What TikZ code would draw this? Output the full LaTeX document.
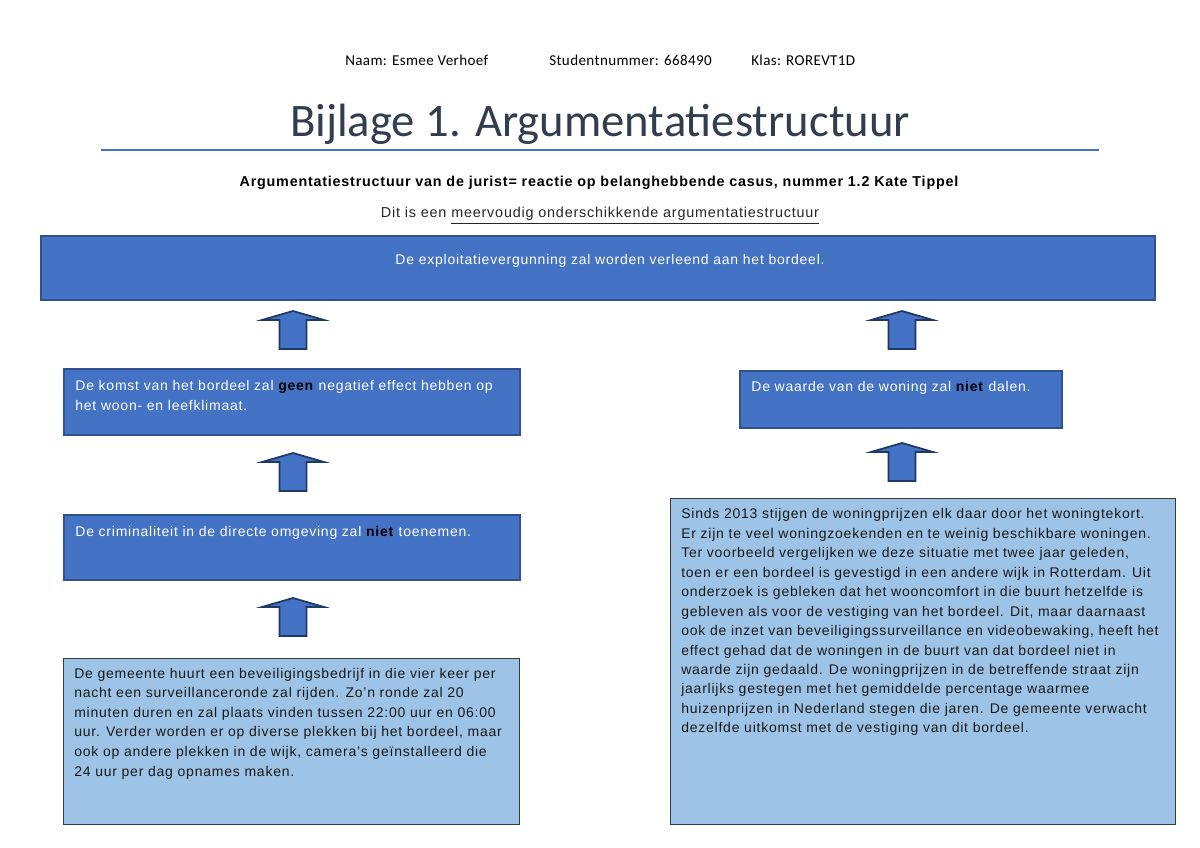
\documentclass[tikz,border=0pt]{standalone}
\usepackage{fontspec}
\setmainfont{Liberation Sans}[LetterSpace=5.5]
\newfontfamily\calibfont{Carlito}
\newfontfamily\calibsp{Carlito}[LetterSpace=2.5]
\definecolor{accent}{HTML}{4472C4}
\definecolor{accentdk}{HTML}{2F528F}
\definecolor{arrowdk}{HTML}{203864}
\definecolor{lightbl}{HTML}{9DC3E6}
\definecolor{titlec}{HTML}{323E4F}
\definecolor{framegray}{HTML}{3A3A3A}
\newdimen\px \px=0.75pt
% width px, height px, xsep pt, ysep pt, text
\newcommand\tb[5]{\begin{minipage}[t][\dimexpr #2\px-#4*2\relax][t]{\dimexpr #1\px-#3*2\relax}\raggedright #5\end{minipage}}
\newcommand\bk[1]{\textcolor{black}{\textbf{#1}}}
\tikzset{
  bodyfont/.style={font=\fontsize{10.5pt}{14.7pt}\selectfont},
  darkbox/.style={draw=accentdk, line width=1.6pt, fill=accent, text=white, anchor=north west, bodyfont},
  lightbox/.style={draw=framegray, line width=0.9pt, fill=lightbl, text=black!90, anchor=north west, bodyfont},
  arrowshape/.style={draw=arrowdk, line width=1.3pt, fill=accent, line join=miter},
  uparr/.pic={\draw[arrowshape] (0,0) -- (31,9) -- (13.5,9) -- (13.5,38) -- (-13.5,38) -- (-13.5,9) -- (-31,9) -- cycle;},
  hdr/.style={font=\calibsp\fontsize{11.3pt}{13pt}\selectfont, anchor=base west, inner sep=0pt}
}
\begin{document}
\begin{tikzpicture}[x=0.75pt,y=-0.75pt]
\useasboundingbox (0,0) rectangle (1200,848);
\fill[white] (0,0) rectangle (1200,848);

% header
\node[hdr] (naam) at (345,66) {Naam: Esmee Verhoef};
\node[hdr] (stud) at (549,66) {Studentnummer: 668490};
\node[hdr] (klas) at (751,66) {Klas: ROREVT1D};

\node[anchor=base, inner sep=0pt, text=titlec, font=\calibfont\fontsize{35pt}{40pt}\selectfont] (title) at (600,137) {Bijlage 1. Argumentatiestructuur};
\draw[accent, line width=1pt] (101,150) coordinate (rl) -- (1099,150) coordinate (rr);

\node[anchor=base, inner sep=0pt, font=\bfseries\fontsize{10.75pt}{12pt}\selectfont] (sub) at (599,187) {Argumentatiestructuur van de jurist= reactie op belanghebbende casus, nummer 1.2 Kate Tippel};
\node[anchor=base, inner sep=0pt, text=black!85, font=\fontsize{10.8pt}{12pt}\selectfont] (dit) at (600,218) {Dit is een \underline{meervoudig onderschikkende argumentatiestructuur}};

% top standpoint
\node[darkbox, inner xsep=9pt, inner ysep=14pt] (stand) at (40,235)
  {\tb{1114}{64}{9pt}{14pt}{\centering\hspace*{18pt}De exploitatievergunning zal worden verleend aan het bordeel.}};

% left column
\node[darkbox, inner xsep=8.5pt, inner ysep=8.5pt] (arg1) at (63,368)
  {\tb{456}{66}{8.5pt}{8.5pt}{De komst van het bordeel zal \bk{geen} negatief effect hebben op\\ het woon- en leefklimaat.}};
\node[darkbox, inner xsep=8.5pt, inner ysep=8.5pt] (arg11) at (63,514)
  {\tb{456}{65}{8.5pt}{8.5pt}{De criminaliteit in de directe omgeving zal \bk{niet} toenemen.}};
\node[lightbox, inner xsep=8pt, inner ysep=7pt] (arg111) at (63,658)
  {\tb{456}{166}{8pt}{7pt}{De gemeente huurt een beveiligingsbedrijf in die vier keer per\\ nacht een surveillanceronde zal rijden. Zo'n ronde zal 20\\ minuten duren en zal plaats vinden tussen 22:00 uur en 06:00\\ uur. Verder worden er op diverse plekken bij het bordeel, maar\\ ook op andere plekken in de wijk, camera's geïnstalleerd die\\ 24 uur per dag opnames maken.}};

% right column
\node[darkbox, inner xsep=8.5pt, inner ysep=8pt] (arg2) at (739,370)
  {\tb{322}{57}{8.5pt}{8pt}{De waarde van de woning zal \bk{niet} dalen.}};
\node[lightbox, inner xsep=8pt, inner ysep=7.5pt] (arg21) at (670,498)
  {\tb{505}{326}{8pt}{7.5pt}{\fontsize{10.5pt}{14.6pt}\selectfont Sinds 2013 stijgen de woningprijzen elk daar door het woningtekort.\\ Er zijn te veel woningzoekenden en te weinig beschikbare woningen.\\ Ter voorbeeld vergelijken we deze situatie met twee jaar geleden,\\ toen er een bordeel is gevestigd in een andere wijk in Rotterdam. Uit\\ onderzoek is gebleken dat het wooncomfort in die buurt hetzelfde is\\ gebleven als voor de vestiging van het bordeel. Dit, maar daarnaast\\ ook de inzet van beveiligingssurveillance en videobewaking, heeft het\\ effect gehad dat de woningen in de buurt van dat bordeel niet in\\ waarde zijn gedaald. De woningprijzen in de betreffende straat zijn\\ jaarlijks gestegen met het gemiddelde percentage waarmee\\ huizenprijzen in Nederland stegen die jaren. De gemeente verwacht\\ dezelfde uitkomst met de vestiging van dit bordeel.}};

% block arrows
\pic at (293,311) {uparr};
\pic at (293,453) {uparr};
\pic at (293,598) {uparr};
\pic at (902,311) {uparr};
\pic at (902,443) {uparr};
\end{tikzpicture}
\end{document}
